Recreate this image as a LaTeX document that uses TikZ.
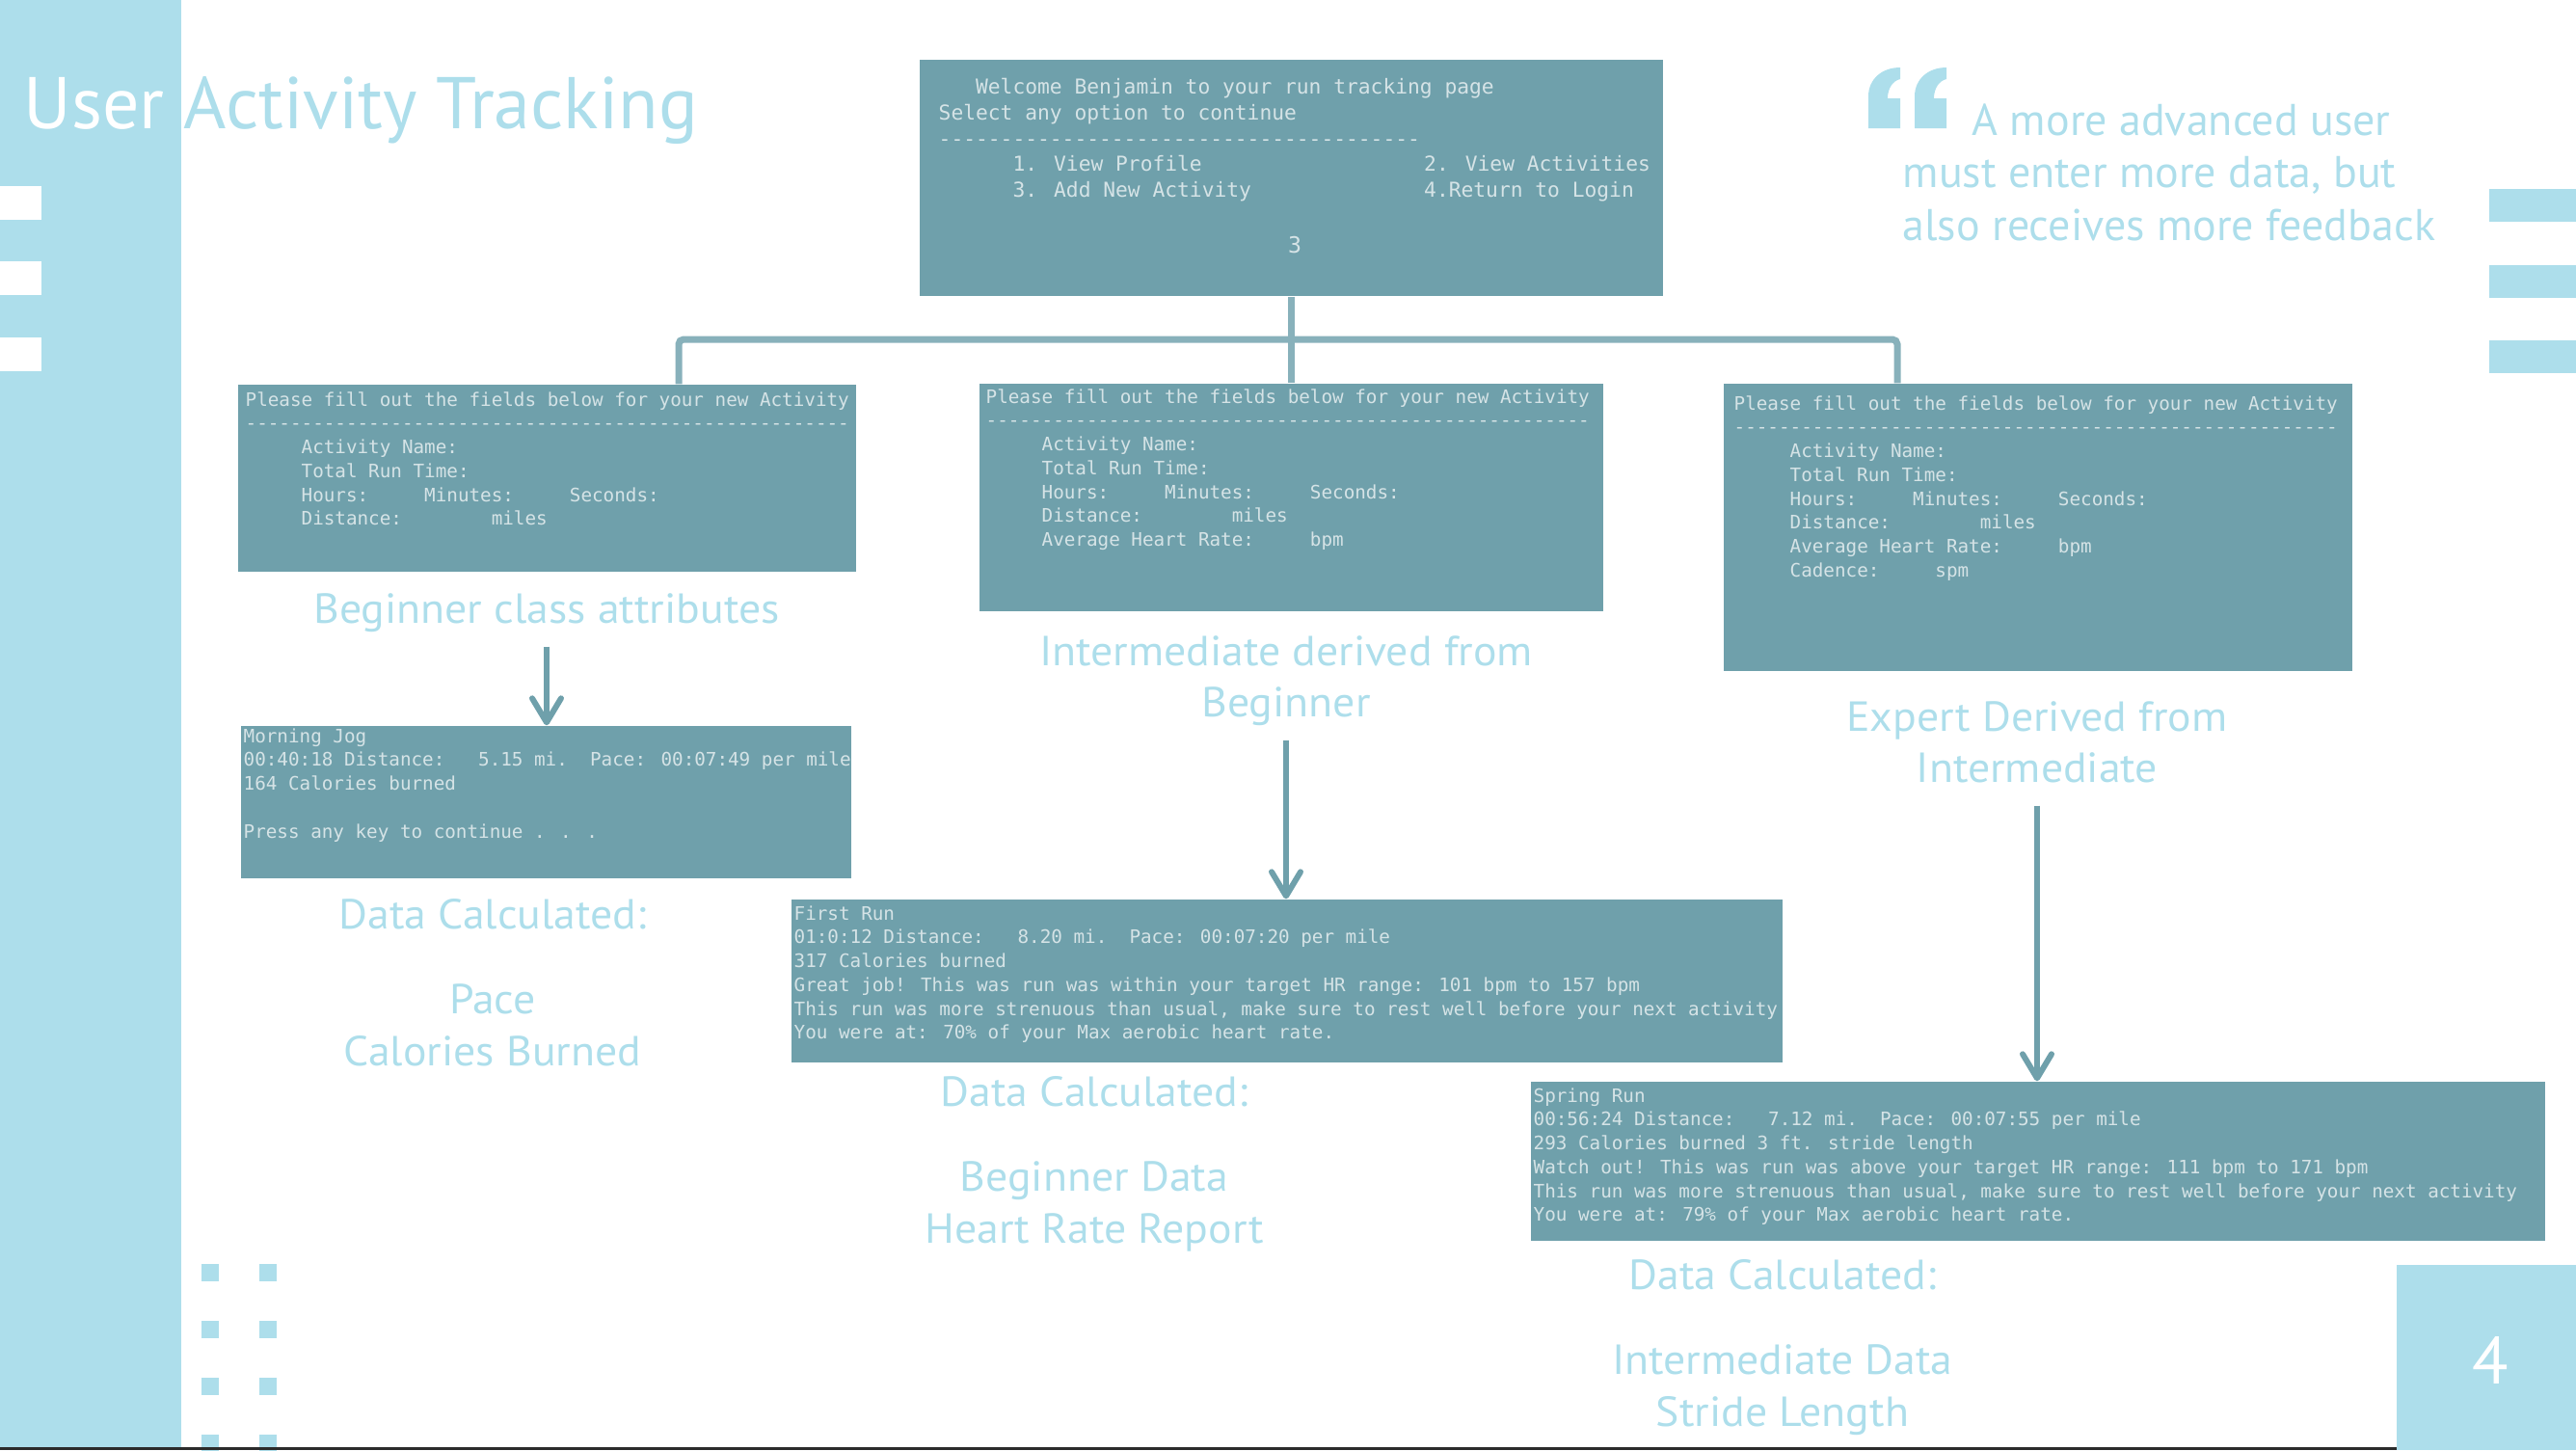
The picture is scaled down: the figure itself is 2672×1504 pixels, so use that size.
\documentclass[tikz,border=0pt]{standalone}
\usepackage{fontspec}
\setmainfont{PT Sans}
\newfontfamily\capfont[FakeStretch=1.05]{PT Sans}
\newfontfamily\termfont{DejaVu Sans Mono}
\usetikzlibrary{
  arrows.meta,
  positioning
}
\definecolor{sky}{HTML}{ADDEEB}
\definecolor{boxteal}{HTML}{6FA0AB}
\definecolor{boxink}{HTML}{D5E3E6}
\definecolor{wireteal}{HTML}{88B1BB}
\definecolor{edgedark}{HTML}{2B2B2B}
\newcommand{\rows}[1]{\begin{tabular}[t]{@{}l@{}}#1\end{tabular}}
\newcommand{\crows}[1]{\begin{tabular}[t]{@{}c@{}}#1\end{tabular}}
\newcommand{\dashline}[1]{\foreach \k in {1,...,#1}{\mbox{-}}}
\tikzset{
  screen/.style={
    fill=boxteal,
    draw=none,
    inner sep=0pt
  },
  termtext/.style={
    anchor=base west,
    inner sep=0pt,
    text=boxink,
    font=\termfont\fontsize{5.48pt}{7.05pt}\selectfont
  },
  menutext/.style={
    termtext,
    font=\termfont\fontsize{6.05pt}{7.68pt}\selectfont
  },
  caption/.style={
    anchor=base,
    inner sep=0pt,
    text=sky,
    font=\capfont\fontsize{12.4pt}{15.1pt}\selectfont
  },
  wire/.style={
    line width=0.7mm,
    draw=wireteal,
    rounded corners=0.5mm
  },
  flow/.style={
    -{Straight Barb[length=2.5mm,width=3mm,round]},
    line width=0.6mm,
    draw=boxteal,
    shorten <=0.8mm
  },
  deco/.style={
    fill=sky,
    draw=none
  }
}

\begin{document}
\begin{tikzpicture}[x=0.1mm, y=-0.1mm]
    \useasboundingbox (0,0) rectangle (2672,1504);
    \clip (0,0) rectangle (2672,1504);
    % page furniture
    \fill[deco] (0,0) rectangle (188,1504);
    \foreach \sy in {193,271,350}
      \fill[white] (0,\sy) rectangle ++(43,35);
    \foreach \sy in {196,275,353}
      \fill[deco] (2582,\sy) rectangle ++(90,34);
    \foreach \cx in {209,269}
      \foreach \cy in {1311,1370,1429,1488}
        \fill[deco] (\cx,\cy) rectangle ++(18,18);
    \fill[edgedark] (0,1501) rectangle (2486,1504);
    \fill[deco] (2486,1312) rectangle (2672,1504);
    \node[anchor=base, inner sep=0pt, text=white,
      font=\fontsize{19.6pt}{22pt}\selectfont] (pagenum) at (2583,1435) {4};

    \node[anchor=base west, inner sep=0pt, text=sky,
      font=\fontsize{21.6pt}{26pt}\selectfont] (title) at (24,133)
      {\textcolor{white}{User} Activity Tracking};

    \foreach \qx in {1938,1986}
      \fill[deco] (\qx,133) -- (\qx,100)
        .. controls (\qx,82) and (\qx+14,70) .. (\qx+33,70)
        -- (\qx+33,82)
        .. controls (\qx+25,84) and (\qx+20,92) .. (\qx+20,102)
        -- (\qx+33,102) -- (\qx+33,133) -- cycle;
    \node[anchor=base west, inner sep=0pt, text=sky,
      font=\fontsize{13.1pt}{15.6pt}\selectfont] (quote) at (1973,140)
      {\rows{\hspace*{7.2mm}A more advanced user\\
        must enter more data, but\\
        also receives more feedback}};

    % menu screen
    \node[screen, minimum width=77.1mm, minimum height=24.5mm] (menu) at (1339.5,184.5) {};
    \node[menutext] (menuTxt) at (973,97) {\rows{
      ~~~Welcome Benjamin to your run tracking page\\
      Select any option to continue\\
      \dashline{39}\\
      ~~~~~~1. View Profile~~~~~~~~~~~~~~~~~~2. View Activities\\
      ~~~~~~3. Add New Activity~~~~~~~~~~~~~~4.Return to Login}};
    \node[anchor=base, inner sep=0pt, text=boxink,
      font=\termfont\fontsize{6.6pt}{8pt}\selectfont] (menuChoice) at (1343,262) {3};

    % input forms
    \node[screen, minimum width=64.1mm, minimum height=19.4mm] (formBeg) at (567.5,496) {};
    \node[screen, minimum width=64.7mm, minimum height=23.6mm] (formInt) at (1339.5,516) {};
    \node[screen, minimum width=65.2mm, minimum height=29.8mm] (formExp) at (2114,547) {};
    \node[termtext] (formBegTxt) at (254,421) {\rows{
      Please fill out the fields below for your new Activity\\
      \dashline{54}\\
      ~~~~~Activity Name:\\
      ~~~~~Total Run Time:\\
      ~~~~~Hours:~~~~~Minutes:~~~~~Seconds:\\
      ~~~~~Distance:~~~~~~~~miles}};
    \node[termtext] (formIntTxt) at (1022,418) {\rows{
      Please fill out the fields below for your new Activity\\
      \dashline{54}\\
      ~~~~~Activity Name:\\
      ~~~~~Total Run Time:\\
      ~~~~~Hours:~~~~~Minutes:~~~~~Seconds:\\
      ~~~~~Distance:~~~~~~~~miles\\
      ~~~~~Average Heart Rate:~~~~~bpm}};
    \node[termtext] (formExpTxt) at (1798,425) {\rows{
      Please fill out the fields below for your new Activity\\
      \dashline{54}\\
      ~~~~~Activity Name:\\
      ~~~~~Total Run Time:\\
      ~~~~~Hours:~~~~~Minutes:~~~~~Seconds:\\
      ~~~~~Distance:~~~~~~~~miles\\
      ~~~~~Average Heart Rate:~~~~~bpm\\
      ~~~~~Cadence:~~~~~spm}};

    \coordinate (busL) at (704,352);
    \coordinate (busR) at (1968,352);
    \draw[wire] (busL |- formBeg.north) -- (busL) -- (busR) -- (busR |- formExp.north);
    \draw[wire] (menu.south) -- (menu.south |- formInt.north);

    % captions under the forms
    \node[caption] (capBeg) at (567,646) {\crows{Beginner class attributes}};
    \node[caption] (capInt) at (1334,690) {\crows{Intermediate derived from\\Beginner}};
    \node[caption] (capExp) at (2113,758) {\crows{Expert Derived from\\Intermediate}};

    % result screens
    \node[screen, minimum width=63.3mm, minimum height=15.8mm] (resBeg) at (566.5,832) {};
    \node[screen, minimum width=102.8mm, minimum height=16.9mm] (resInt) at (1335,1017.5) {};
    \node[screen, minimum width=105.2mm, minimum height=16.5mm] (resExp) at (2114,1204.5) {};
    \node[termtext] (resBegTxt) at (252,770) {\rows{
      Morning Jog\\
      00:40:18 Distance:~~~5.15 mi.~~Pace: 00:07:49 per mile\\
      164 Calories burned\\
      \\
      Press any key to continue . . .}};
    \node[termtext] (resIntTxt) at (823,954) {\rows{
      First Run\\
      01:0:12 Distance:~~~8.20 mi.~~Pace: 00:07:20 per mile\\
      317 Calories burned\\
      Great job! This was run was within your target HR range: 101 bpm to 157 bpm\\
      This run was more strenuous than usual, make sure to rest well before your next activity\\
      You were at: 70\% of your Max aerobic heart rate.}};
    \node[termtext] (resExpTxt) at (1590,1143) {\rows{
      Spring Run\\
      00:56:24 Distance:~~~7.12 mi.~~Pace: 00:07:55 per mile\\
      293 Calories burned 3 ft. stride length\\
      Watch out! This was run was above your target HR range: 111 bpm to 171 bpm\\
      This run was more strenuous than usual, make sure to rest well before your next activity\\
      You were at: 79\% of your Max aerobic heart rate.}};

    \draw[flow] (capBeg.south) -- (capBeg.south |- resBeg.north);
    \draw[flow] (capInt.south) -- (capInt.south |- resInt.north);
    \draw[flow] (capExp.south) -- (capExp.south |- resExp.north);

    % what each level computes
    \node[caption] (calcBeg) at (511,963)
      {\crows{Data Calculated:\\[10.2pt]Pace\\Calories Burned}};
    \node[caption] (calcInt) at (1135,1147)
      {\crows{Data Calculated:\\[10.2pt]Beginner Data\\Heart Rate Report}};
    \node[caption] (calcExp) at (1849,1337)
      {\crows{Data Calculated:\\[10.2pt]Intermediate Data\\Stride Length}};
  \end{tikzpicture}
\end{document}
